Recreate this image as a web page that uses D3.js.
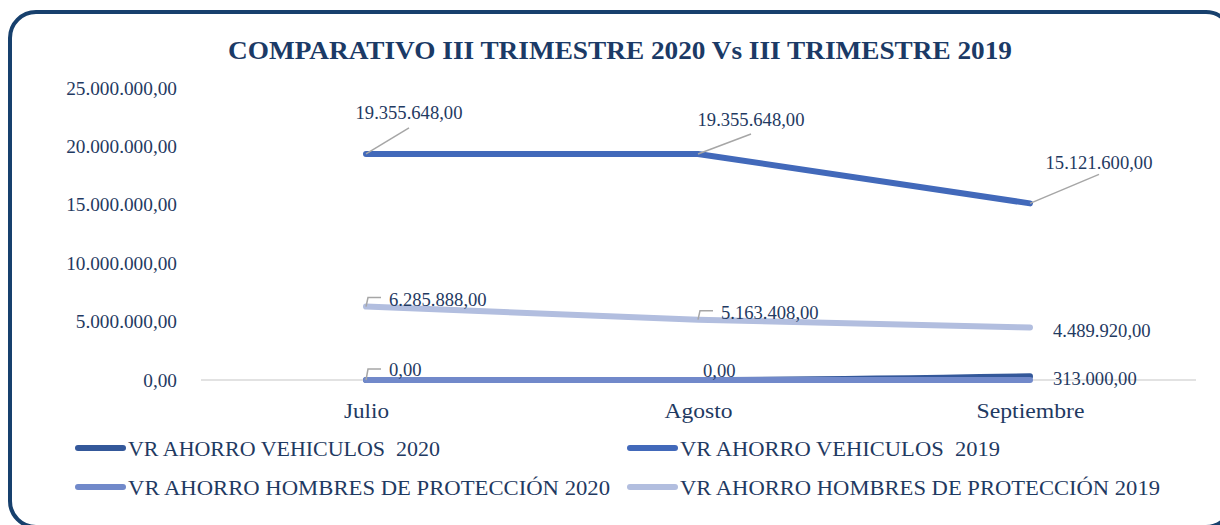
<!DOCTYPE html>
<html><head><meta charset="utf-8">
<script src="https://cdn.jsdelivr.net/npm/d3@7"></script>
<style>html,body{margin:0;padding:0;background:#fff;}svg{display:block;}</style>
</head><body>
<svg id="chart" width="1220" height="525"></svg>
<script>
const title = "COMPARATIVO III TRIMESTRE 2020 Vs III TRIMESTRE 2019";
const months = ["Julio", "Agosto", "Septiembre"];
const yTicks = [0, 5000000, 10000000, 15000000, 20000000, 25000000];
const seriesNames = ["VR AHORRO VEHICULOS  2020", "VR AHORRO VEHICULOS  2019", "VR AHORRO HOMBRES DE PROTECCIÓN 2020", "VR AHORRO HOMBRES DE PROTECCIÓN 2019"];
const vehiculos2020 = [0, 0, 313000];
const vehiculos2019 = [19355648, 19355648, 15121600];
const hombres2020 = [0, 0, 0];
const hombres2019 = [6285888, 5163408, 4489920];
const colors = ["#34589A", "#4269BA", "#7189CA", "#B2BEDF"];

const font = "'Liberation Serif','Times New Roman',serif";
const txt = "#1F3A62";
const svg = d3.select("#chart");
const fmt = v => {
  const s = d3.format(",.2f")(v);
  return s.replace(/,/g, "#").replace(/\./g, ",").replace(/#/g, ".");
};

// frame
svg.append("rect").attr("x", 10).attr("y", 12).attr("width", 1222).attr("height", 515)
  .attr("rx", 26).attr("fill", "#fff").attr("stroke", "#17406D").attr("stroke-width", 4);

svg.append("text").attr("x", 228).attr("y", 59)
  .attr("font-family", font).attr("font-weight", "bold").attr("font-size", 26)
  .attr("textLength", 784).attr("lengthAdjust", "spacingAndGlyphs")
  .attr("fill", "#1B3A66").text(title);

const x = d3.scalePoint().domain(months).range([200, 1196]).padding(0.5);
const y = d3.scaleLinear().domain([0, 25000000]).range([380, 88]);

// y axis labels
const yAxis = svg.append("g").attr("transform", "translate(177,0)")
  .call(d3.axisLeft(y).tickValues(yTicks).tickFormat(fmt).tickSize(0).tickPadding(0));
yAxis.select(".domain").remove();
yAxis.selectAll("text").attr("font-family", font).attr("font-size", 19.3).attr("fill", txt).attr("dy", "0.32em");

// baseline
svg.append("line").attr("x1", 201).attr("x2", 1196).attr("y1", y(0)).attr("y2", y(0))
  .attr("stroke", "#D9D9D9").attr("stroke-width", 1.5);

// x axis labels
const xLen = {"Julio": 45, "Agosto": 68, "Septiembre": 108};
const xAxis = svg.append("g").attr("transform", "translate(0,380)")
  .call(d3.axisBottom(x).tickSize(0).tickPadding(38));
xAxis.select(".domain").remove();
xAxis.selectAll("text").attr("font-family", font).attr("font-size", 20).attr("fill", txt).attr("dy", "0")
  .attr("textLength", d => xLen[d]).attr("lengthAdjust", "spacingAndGlyphs");

const series = [
  {vals: hombres2019, c: colors[3], curve: d3.curveMonotoneX},
  {vals: vehiculos2019, c: colors[1], curve: d3.curveLinear},
  {vals: vehiculos2020, c: colors[0], curve: d3.curveMonotoneX},
  {vals: hombres2020, c: colors[2], curve: d3.curveLinear}
];
series.forEach(s => {
  const line = d3.line().x((d, i) => x(months[i])).y(d => y(d)).curve(s.curve);
  svg.append("path").attr("d", line(s.vals)).attr("fill", "none").attr("stroke", s.c)
    .attr("stroke-width", 6).attr("stroke-linecap", "round").attr("stroke-linejoin", "round");
});

// data labels
const lbl = svg.append("g").attr("font-family", font).attr("font-size", 18.6).attr("fill", txt);
const leader = "#A6A6A6";
const vOff = [[43, -26, -35], [53, -20, -28], [69, -29, -34]];
vehiculos2019.forEach((v, i) => {
  const px = x(months[i]), py = y(v), o = vOff[i];
  svg.append("line").attr("x1", px).attr("y1", py).attr("x2", px + o[0]).attr("y2", py + o[1])
    .attr("stroke", leader).attr("stroke-width", 1.5);
  lbl.append("text").attr("x", px + o[0]).attr("y", py + o[2]).attr("text-anchor", "middle").text(fmt(v));
});
hombres2019.forEach((v, i) => {
  const px = x(months[i]), py = y(v);
  if (i < 2) {
    svg.append("path").attr("d", `M${px},${py} L${px + 2},${py - 9} L${px + 15},${py - 9}`)
      .attr("fill", "none").attr("stroke", leader).attr("stroke-width", 1.5);
    lbl.append("text").attr("x", px + 23).attr("y", py - 1).text(fmt(v));
  } else {
    lbl.append("text").attr("x", px + 23).attr("y", py + 9).text(fmt(v));
  }
});
vehiculos2020.forEach((v, i) => {
  const px = x(months[i]), py = y(v);
  if (i === 0) {
    svg.append("path").attr("d", `M${px},${py} L${px + 2},${py - 11} L${px + 15},${py - 11}`)
      .attr("fill", "none").attr("stroke", leader).attr("stroke-width", 1.5);
    lbl.append("text").attr("x", px + 23).attr("y", py - 4).text(fmt(v));
  } else if (i === 1) {
    lbl.append("text").attr("x", px + 5).attr("y", py - 3).text(fmt(v));
  } else {
    lbl.append("text").attr("x", px + 23).attr("y", py + 9).text(fmt(v));
  }
});

// legend
const legPos = [[78, 448], [630, 448], [78, 487], [630, 487]];
const legLen = [312, 320, 482, 480];
seriesNames.forEach((n, i) => {
  const [lx, ly] = legPos[i];
  svg.append("line").attr("x1", lx).attr("x2", lx + 45).attr("y1", ly).attr("y2", ly)
    .attr("stroke", colors[i]).attr("stroke-width", 6).attr("stroke-linecap", "round");
  svg.append("text").attr("x", lx + 50).attr("y", ly + 8).attr("font-family", font)
    .attr("font-size", 20).attr("fill", txt).style("white-space", "pre")
    .attr("textLength", legLen[i]).attr("lengthAdjust", "spacingAndGlyphs").text(n);
});
</script>
</body></html>
